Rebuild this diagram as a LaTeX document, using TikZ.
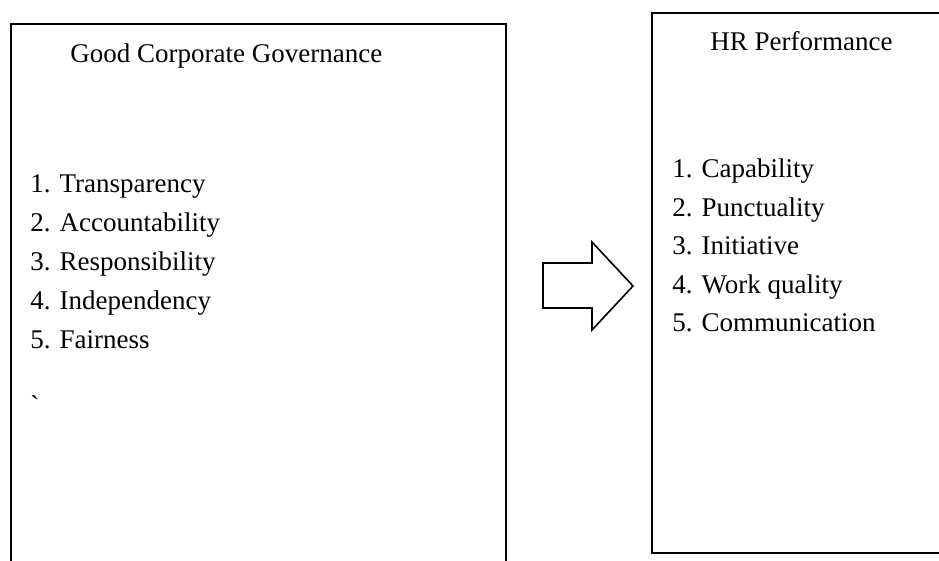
\documentclass[tikz,border=0pt]{standalone}
\usepackage{fontspec}
\setmainfont{Liberation Serif}

\begin{document}
\begin{tikzpicture}[x=0.5pt,y=-0.5pt]
        \tikzstyle{item} = [anchor=base west, inner sep=0pt, font=\fontsize{13.5}{16}\selectfont];
        \tikzstyle{panel} = [draw=black, line width=1pt];
        \tikzstyle{blockarrow} = [draw=black, line width=0.8pt, fill=white, line join=miter];

        \useasboundingbox (0,0) rectangle (939,561);
        \clip (0,0) rectangle (939,561);

        \draw[panel] (11,24) rectangle (506,600);
        \draw[panel] (652,13) rectangle (960,553);

        \node(gcgtitle) [item] at (70,63) {Good Corporate Governance};
        \node(gcgone) [item] at (30,193) {1. Transparency};
        \node(gcgtwo) [item] at (30,232) {2. Accountability};
        \node(gcgthree) [item] at (30,271) {3. Responsibility};
        \node(gcgfour) [item] at (30,310) {4. Independency};
        \node(gcgfive) [item] at (30,349) {5. Fairness};
        \node(gcgtick) [item] at (30,415) {\textasciigrave};

        \node(hrtitle) [item] at (710,51) {HR Performance};
        \node(hrone) [item] at (672,178) {1. Capability};
        \node(hrtwo) [item] at (672,217) {2. Punctuality};
        \node(hrthree) [item] at (672,255) {3. Initiative};
        \node(hrfour) [item] at (672,294) {4. Work quality};
        \node(hrfive) [item] at (672,332) {5. Communication};

        \filldraw[blockarrow] (543,263) -- (592,263) -- (592,242) -- (633,286) -- (592,330) -- (592,308) -- (543,308) -- cycle;

\end{tikzpicture}
\end{document}
